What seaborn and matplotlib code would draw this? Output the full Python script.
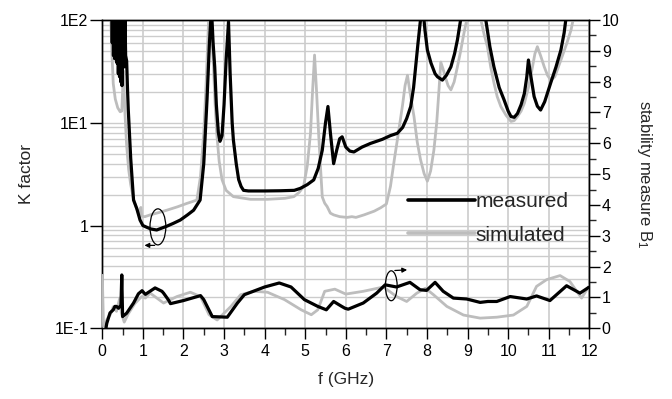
import numpy as np
import pandas as pd
import matplotlib
matplotlib.use("Agg")
import matplotlib.pyplot as plt
import seaborn as sns
from matplotlib.patches import Ellipse
from matplotlib.lines import Line2D
from matplotlib.ticker import MultipleLocator, LogLocator, NullFormatter

# ---------------- data ----------------
k_meas_f = [0.23, 0.245, 0.26, 0.275, 0.29, 0.305, 0.32, 0.335, 0.35, 0.365, 0.38, 0.395,
            0.41, 0.425, 0.44, 0.455, 0.47, 0.485, 0.50, 0.515, 0.53, 0.545, 0.56, 0.575,
            0.60, 0.62, 0.64, 0.70, 0.77, 0.85, 0.93, 1.0, 1.1, 1.2, 1.34, 1.45, 1.59, 1.75,
            1.92, 2.1, 2.25, 2.41, 2.5, 2.58, 2.64, 2.69, 2.73, 2.77, 2.81, 2.86, 2.9, 2.95,
            3.0, 3.05, 3.11, 3.15, 3.2, 3.23, 3.3, 3.36, 3.42, 3.48, 3.6, 4.0, 4.4, 4.73,
            4.88, 5.05, 5.21, 5.32, 5.42, 5.5, 5.56, 5.62, 5.7, 5.78, 5.85, 5.91, 6.0, 6.1,
            6.2, 6.4, 6.61, 6.9, 7.1, 7.27, 7.4, 7.5, 7.6, 7.67, 7.72, 7.78, 7.84, 7.9, 7.95,
            8.01, 8.1, 8.2, 8.26, 8.38, 8.48, 8.59, 8.68, 8.75, 8.83, 8.9, 9.4, 9.45, 9.55,
            9.65, 9.78, 9.9, 10.0, 10.07, 10.15, 10.23, 10.32, 10.4, 10.46, 10.5, 10.55,
            10.64, 10.72, 10.8, 10.9, 11.05, 11.18, 11.3, 11.38, 11.42, 11.5, 12.0]
k_meas = [150, 60, 150, 45, 140, 42, 150, 50, 130, 38, 150, 30,
          120, 28, 140, 25, 110, 23, 130, 40, 120, 35, 100, 45,
          40, 22, 13.4, 4.5, 1.77, 1.46, 1.13, 1.0, 0.96, 0.925, 0.905, 0.94, 0.985, 1.05,
          1.13, 1.27, 1.41, 1.77, 4.0, 16.7, 60, 130, 60, 35, 15, 8, 6.6, 7.5,
          15, 40, 96, 30, 10, 6.8, 4.0, 2.8, 2.4, 2.2, 2.17, 2.17, 2.18, 2.2,
          2.3, 2.5, 2.78, 3.6, 5.4, 10, 14.4, 8, 4.0, 5.5, 7.0, 7.3, 5.8, 5.3,
          5.2, 5.8, 6.3, 6.9, 7.5, 7.9, 9.0, 11, 14.4, 22, 35, 60, 100, 130, 80,
          51, 38, 30, 28, 26, 29, 35, 47, 64, 100, 150, 150, 100, 55,
          35, 22, 16.7, 13, 11.5, 11.3, 12.3, 15, 19.3, 28, 40.8, 30,
          18, 14.5, 13.3, 16, 24.5, 35, 51, 75, 100, 150, 150]

k_sim_f = [0.19, 0.21, 0.24, 0.27, 0.32, 0.38, 0.44, 0.48, 0.5, 0.52, 0.54, 0.56, 0.6,
           0.65, 0.7, 0.77, 0.85, 0.9, 0.95, 0.97, 1.05, 1.18, 1.4, 1.59, 1.85, 2.08, 2.2,
           2.33, 2.42, 2.5, 2.56, 2.62, 2.65, 2.69, 2.74, 2.78, 2.82, 2.88, 2.95, 3.05, 3.23,
           3.65, 4.07, 4.5, 4.72, 4.85, 4.96, 5.05, 5.13, 5.18, 5.23, 5.28, 5.33, 5.38, 5.42,
           5.48, 5.54, 5.62, 5.7, 5.85, 6.03, 6.15, 6.25, 6.45, 6.7, 6.86, 7.0, 7.1, 7.2,
           7.27, 7.4, 7.46, 7.52, 7.58, 7.68, 7.76, 7.84, 7.93, 8.01, 8.09, 8.17, 8.24, 8.3,
           8.34, 8.4, 8.45, 8.52, 8.59, 8.67, 8.75, 8.83, 8.91, 8.98, 9.05, 9.27, 9.33, 9.41,
           9.49, 9.57, 9.65, 9.73, 9.82, 9.95, 10.07, 10.15, 10.23, 10.32, 10.4, 10.5, 10.6,
           10.66, 10.72, 10.8, 10.89, 10.97, 11.05, 11.15, 11.3, 11.45, 11.55, 11.6, 11.7, 12.0]
k_sim = [150, 100, 45, 24, 17, 14, 12.8, 13, 20, 32, 20, 12, 6,
         3.5, 2.5, 1.8, 1.45, 1.3, 1.5, 1.23, 1.22, 1.27, 1.34, 1.41, 1.52, 1.64, 1.7,
         1.77, 3.0, 7.9, 25, 100, 150, 80, 35, 15, 7.9, 4.2, 2.8, 2.2, 1.91,
         1.8, 1.8, 1.84, 1.91, 2.1, 2.4, 3.8, 7.9, 20, 45.6, 20, 7.9, 3.5, 1.9,
         1.65, 1.53, 1.32, 1.27, 1.22, 1.2, 1.22, 1.2, 1.27, 1.38, 1.49, 1.62, 2.4, 4.5,
         6.8, 15, 23, 29, 20, 11.5, 6.5, 4.4, 3.2, 2.7, 3.4, 5.4, 10, 22,
         39, 33, 28, 23, 20.9, 25, 35, 50, 74, 100, 150, 150, 100, 72,
         55, 35, 24.5, 18, 14.4, 11.8, 10.3, 10.5, 11.5, 13, 15.5, 22, 35,
         47, 55, 45, 35, 29, 26, 28, 40.8, 60, 80, 100, 150, 150]

b_meas_f = [0.09, 0.11, 0.19, 0.27, 0.31, 0.35, 0.4, 0.46, 0.48, 0.5, 0.6, 0.77, 0.89,
            0.98, 1.06, 1.3, 1.47, 1.51, 1.63, 1.68, 2.0, 2.42, 2.5, 2.71, 3.08, 3.33, 3.5,
            4.0, 4.36, 4.65, 4.98, 5.31, 5.52, 5.7, 5.9, 5.98, 6.06, 6.43, 6.76, 6.97, 7.25,
            7.58, 7.83, 7.99, 8.2, 8.4, 8.65, 8.98, 9.31, 9.5, 9.72, 10.05, 10.46, 10.7,
            11.03, 11.44, 11.77, 12.0]
b_meas = [0.0, 0.16, 0.5, 0.6, 0.71, 0.71, 0.65, 0.75, 1.73, 0.38, 0.49, 0.82, 1.12,
          1.22, 1.1, 1.31, 1.2, 1.14, 0.92, 0.8, 0.9, 1.06, 0.93, 0.38, 0.36, 0.82, 1.09,
          1.34, 1.47, 1.34, 0.93, 0.71, 0.6, 0.87, 0.71, 0.65, 0.62, 0.82, 1.14, 1.41, 1.34,
          1.49, 1.25, 1.23, 1.49, 1.2, 0.98, 0.95, 0.84, 0.87, 0.87, 1.03, 0.95, 1.05,
          0.9, 1.38, 1.14, 1.34]

b_sim_f = [0.0, 0.03, 0.12, 0.2, 0.27, 0.35, 0.43, 0.47, 0.54, 0.64, 0.8, 0.97, 1.06,
           1.18, 1.51, 1.84, 2.17, 2.42, 2.63, 2.83, 3.17, 3.41, 3.74, 4.07, 4.49, 4.9,
           5.15, 5.31, 5.48, 5.73, 6.0, 6.43, 6.93, 7.25, 7.5, 7.75, 7.96, 8.16, 8.49, 8.9,
           9.31, 9.72, 10.13, 10.46, 10.7, 10.95, 11.28, 11.52, 11.81, 12.0]
b_sim = [1.72, 0.05, 0.3, 0.45, 0.7, 0.55, 0.98, 0.5, 0.2, 0.47, 0.8, 1.03, 0.98,
         1.14, 0.82, 1.03, 1.17, 1.03, 0.44, 0.27, 0.71, 1.09, 1.2, 1.17, 0.93, 0.6,
         0.44, 0.6, 1.2, 1.27, 1.11, 1.2, 1.34, 1.03, 0.87, 1.14, 1.3, 1.09, 0.71, 0.43,
         0.33, 0.36, 0.43, 0.71, 1.36, 1.58, 1.71, 1.52, 0.98, 1.38]

k_ticks = [0.1, 1, 10, 100]
k_tick_labels = ["1E-1", "1", "1E1", "1E2"]
x_ticks = list(range(0, 13))
b_ticks = list(range(0, 11))
series_labels = ["measured", "simulated"]

# ---------------- style ----------------
sns.set_theme(style="white")
plt.rcParams["font.family"] = ["Liberation Sans", "DejaVu Sans"]
plt.rcParams["mathtext.fontset"] = "custom"
plt.rcParams["mathtext.rm"] = "Liberation Sans"
plt.rcParams["mathtext.it"] = "Liberation Sans"

BLACK = "#000000"
GRAY = "#bdbdbd"
GRID = "#cccccc"

fig = plt.figure(figsize=(6.72, 3.99), dpi=100)
ax = fig.add_axes([102.3 / 672, 1 - 328.3 / 399, (589.3 - 102.3) / 672, (328.3 - 20) / 399])
ax2 = ax.twinx()

dk_m = pd.DataFrame({"f": k_meas_f, "K": k_meas})
dk_s = pd.DataFrame({"f": k_sim_f, "K": k_sim})
db_m = pd.DataFrame({"f": b_meas_f, "B": b_meas})
db_s = pd.DataFrame({"f": b_sim_f, "B": b_sim})

sns.lineplot(data=dk_s, x="f", y="K", ax=ax, color=GRAY, lw=2.0, sort=False, estimator=None, zorder=3)
sns.lineplot(data=dk_m, x="f", y="K", ax=ax, color=BLACK, lw=2.3, sort=False, estimator=None, zorder=4)
sns.lineplot(data=db_s, x="f", y="B", ax=ax2, color=GRAY, lw=2.0, sort=False, estimator=None, zorder=3)
sns.lineplot(data=db_m, x="f", y="B", ax=ax2, color=BLACK, lw=2.3, sort=False, estimator=None, zorder=4)

ax.set_yscale("log")
ax.set_ylim(0.1, 100)
ax.set_xlim(0, 12)
ax2.set_ylim(0, 10)

ax.set_yticks(k_ticks)
ax.set_yticklabels(k_tick_labels)
ax.yaxis.set_minor_locator(LogLocator(base=10, subs=np.arange(2, 10)))
ax.yaxis.set_minor_formatter(NullFormatter())
ax.set_xticks(x_ticks)
ax.xaxis.set_minor_locator(MultipleLocator(0.5))
ax2.set_yticks(b_ticks)
ax2.yaxis.set_minor_locator(MultipleLocator(0.5))

ax.grid(True, which="both", axis="y", color=GRID, lw=1.0)
ax.grid(True, which="major", axis="x", color=GRID, lw=1.2)
ax.set_axisbelow(True)
ax2.grid(False)

for a in (ax, ax2):
    for s in a.spines.values():
        s.set_color("black")
        s.set_linewidth(1.0)

ax.tick_params(axis="y", which="major", direction="out", length=9, width=1, colors="black",
               labelsize=11.5, pad=1, left=True)
ax.tick_params(axis="y", which="minor", length=0)
ax.tick_params(axis="x", which="major", direction="out", length=8, width=1, colors="black",
               labelsize=11.5, pad=3, bottom=True)
ax.tick_params(axis="x", which="minor", direction="out", length=5, width=1, bottom=True)
ax2.tick_params(axis="y", which="major", direction="out", length=8, width=1, colors="black",
                labelsize=11.5, pad=1, right=True)
ax2.tick_params(axis="y", which="minor", direction="out", length=5, width=1, right=True)

ax.set_xlabel("f (GHz)", fontsize=12.5, labelpad=10)
ax.set_ylabel("K factor", fontsize=12.5, labelpad=15)
ax2.set_ylabel(r"stability measure B$_\mathrm{1}$", fontsize=12, rotation=270, labelpad=25)

# annotations (ellipses + arrows)
ax2.add_patch(Ellipse((1.37, 3.29), 0.39, 1.17, fill=False, ec="black", lw=0.9, zorder=6))
ax2.annotate("", xy=(0.97, 2.69), xytext=(1.36, 2.69),
             arrowprops=dict(arrowstyle="-|>", color="black", lw=0.9, mutation_scale=7), zorder=6)
ax2.add_patch(Ellipse((7.12, 1.38), 0.29, 0.97, fill=False, ec="black", lw=0.9, zorder=6))
ax2.annotate("", xy=(7.58, 1.9), xytext=(7.14, 1.87),
             arrowprops=dict(arrowstyle="-|>", color="black", lw=0.9, mutation_scale=7), zorder=6)

handles = [Line2D([], [], color=BLACK, lw=2.6), Line2D([], [], color=GRAY, lw=2.6)]
leg = ax2.legend(handles, series_labels, loc="upper left",
                 bbox_to_anchor=(408 / 672, 1 - 192 / 399), bbox_transform=fig.transFigure,
                 frameon=False, fontsize=15, handlelength=3.2, handletextpad=0.05,
                 labelspacing=0.7, borderpad=0, borderaxespad=0)

fig.savefig("out.png", dpi=100)
